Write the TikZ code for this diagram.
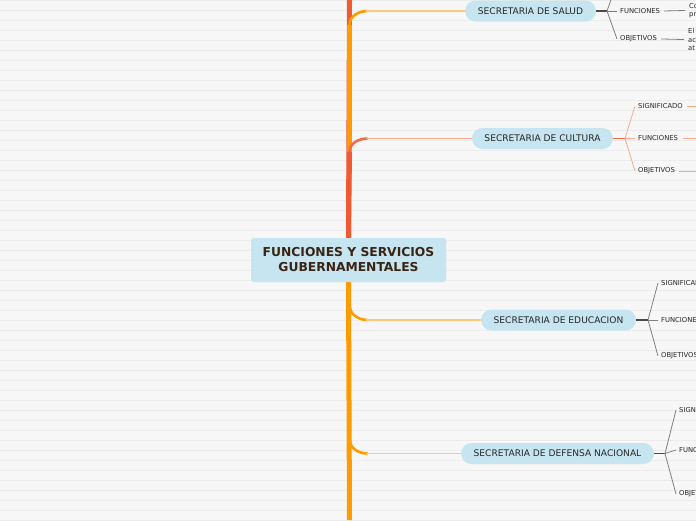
\documentclass[tikz,border=0pt]{standalone}
\usepackage{fontspec}
\usetikzlibrary{calc}
\setmainfont{DejaVu Sans}
\definecolor{bgc}{HTML}{F7F7F7}
\definecolor{gridc}{HTML}{ECECEC}
\definecolor{nodeblue}{HTML}{C6E5F0}
\definecolor{rootbrown}{HTML}{3A2414}
\definecolor{trunkred}{HTML}{EE5A32}
\definecolor{trunkorange}{HTML}{FF9A00}
\definecolor{lightorange}{HTML}{FDC87A}
\definecolor{salmon}{HTML}{F06A45}
\definecolor{lightsalmon}{HTML}{F7A88E}
\definecolor{darkline}{HTML}{4A4A4A}
\definecolor{grayline}{HTML}{808080}
\definecolor{textc}{HTML}{262626}
\tikzset{
  root/.style={rectangle, rounded corners=3pt, fill=nodeblue, minimum width=195pt, minimum height=44pt, align=center, text=rootbrown, font=\fontsize{12.3}{15}\selectfont\bfseries, inner sep=0pt},
  sec/.style={rectangle, rounded corners=10.5pt, fill=nodeblue, minimum height=21pt, inner sep=0pt, text=textc, font=\fontsize{9.1}{11}\selectfont},
  leaf/.style={anchor=west, inner sep=0pt, text=textc, font=\fontsize{6.8}{8}\selectfont},
  leaftxt/.style={anchor=west, inner sep=0pt, text=textc, align=left, font=\fontsize{6.8}{8.5}\selectfont},
  fan/.style={line width=0.8pt, draw=grayline},
  fanc/.style={line width=0.8pt, draw=lightsalmon},
  stem/.style={line width=1.6pt, draw=darkline},
}
\begin{document}
\begin{tikzpicture}[x=1pt,y=-1pt]
\useasboundingbox (0,0) rectangle (696,520);
\clip (0,0) rectangle (696,520);
\fill[bgc] (0,0) rectangle (696,520);
\foreach \k in {0,...,52} { \draw[gridc, line width=0.7pt] (0,\k*10+0.5) -- (696,\k*10+0.5); }

% nodes
\node[root] (root) at (348.5,260) {FUNCIONES Y SERVICIOS\\GUBERNAMENTALES};
\node[sec, minimum width=131pt] (salud) at (530.5,11) {SECRETARIA DE SALUD};
\node[sec, minimum width=141pt] (cultura) at (542.5,138.5) {SECRETARIA DE CULTURA};
\node[sec, minimum width=155pt] (educ) at (558.5,320) {SECRETARIA DE EDUCACION};
\node[sec, minimum width=193pt] (defensa) at (557.5,453.5) {SECRETARIA DE DEFENSA NACIONAL};

% trunk coordinates
\coordinate (ttop) at (349.5,0);
\coordinate (tbot) at (349.5,520);
\coordinate (cs) at (349.5,25);
\coordinate (cc) at (349.5,152);
\coordinate (ce) at (349.5,305);
\coordinate (cd) at (349.5,439);

% upper trunk
\draw[trunkred, line width=5pt] (ttop) -- (root.north);
\draw[trunkorange, line width=4.6pt] (cc) -- (cs);
\draw[trunkorange, line width=2.6pt] (cs) to[out=90,in=180] ($(cs)+(18,-14)$);
\draw[lightorange, line width=1.4pt] ($(cs)+(16,-14)$) -- (salud.west);
\draw[salmon, line width=2.6pt] (cc) to[out=90,in=180] ($(cc)+(18,-13.5)$);
\draw[lightsalmon, line width=1.4pt] ($(cc)+(16,-13.5)$) -- (cultura.west);
\draw[trunkred, line width=5pt] (root.north) -- (cc);
% lower trunk
\draw[trunkorange, line width=5pt] (root.south) -- (tbot);
\draw[trunkorange, line width=2.6pt] (ce) to[out=-90,in=180] ($(ce)+(18,15)$);
\draw[lightorange, line width=1.4pt] ($(ce)+(16,15)$) -- (educ.west);
\draw[trunkorange, line width=2.6pt] (cd) to[out=-90,in=180] ($(cd)+(18,14.5)$);
\draw[lightorange, line width=1.4pt] ($(cd)+(16,14.5)$) -- (defensa.west);
\node[root] at (root) {FUNCIONES Y SERVICIOS\\GUBERNAMENTALES};

% salud children
\coordinate (js) at (607,11);
\node[leaf] (sfun) at (620,11) {FUNCIONES};
\node[leaf] (sobj) at (620,39) {OBJETIVOS};
\coordinate (ssig) at (617,-17);
\draw[stem] (salud.east) -- (js);
\draw[fan] (js) -- (ssig);
\draw[fan] (js) -- ($(sfun.west)+(-3,0)$);
\draw[fan] (js) -- ($(sobj.west)+(-3,0)$);
\node[leaftxt] (sfunt) at (689,10.5) {Co\\pr};
\node[leaftxt] (sobjt) at (688,39.5) {El\\ac\\at};
\draw[fan] ($(sfun.east)+(4,0)$) -- ($(sfunt.west)+(-4,0)$);
\draw[fan] ($(sobj.east)+(4,0)$) -- ($(sobjt.west)+(-4,0)$);

% cultura children
\coordinate (jc) at (625,138.5);
\node[leaf] (csig) at (638,106) {SIGNIFICADO};
\node[leaf] (cfun) at (638,138.5) {FUNCIONES};
\node[leaf] (cobj) at (638,171) {OBJETIVOS};
\coordinate (csige) at (700,106);
\coordinate (cfune) at (700,138.5);
\coordinate (cobje) at (700,171);
\draw[salmon, line width=1.6pt] (cultura.east) -- (jc);
\draw[fanc] (jc) -- ($(csig.west)+(-3,0)$);
\draw[fanc] (jc) -- ($(cfun.west)+(-3,0)$);
\draw[fanc] (jc) -- ($(cobj.west)+(-3,0)$);
\draw[fanc] ($(csig.east)+(4,0)$) -- (csige);
\draw[fanc] ($(cfun.east)+(5,0)$) -- (cfune);
\draw[fanc] ($(cobj.east)+(4,0)$) -- (cobje);

% educacion children
\coordinate (je) at (648,320);
\node[leaf] (esig) at (661,283) {SIGNIFICADO};
\node[leaf] (efun) at (661,320) {FUNCIONES};
\node[leaf] (eobj) at (661,356) {OBJETIVOS};
\draw[stem] (educ.east) -- (je);
\draw[fan] (je) -- ($(esig.west)+(-3,0)$);
\draw[fan] (je) -- ($(efun.west)+(-3,0)$);
\draw[fan] (je) -- ($(eobj.west)+(-3,0)$);

% defensa children
\coordinate (jd) at (665,453.5);
\node[leaf] (dsig) at (679,410) {SIGNIFICADO};
\node[leaf] (dfun) at (679,450) {FUNCIONES};
\node[leaf] (dobj) at (679,494) {OBJETIVOS};
\draw[stem] (defensa.east) -- (jd);
\draw[fan] (jd) -- ($(dsig.west)+(-3,0)$);
\draw[fan] (jd) -- ($(dfun.west)+(-3,0)$);
\draw[fan] (jd) -- ($(dobj.west)+(-3,0)$);
\end{tikzpicture}
\end{document}
